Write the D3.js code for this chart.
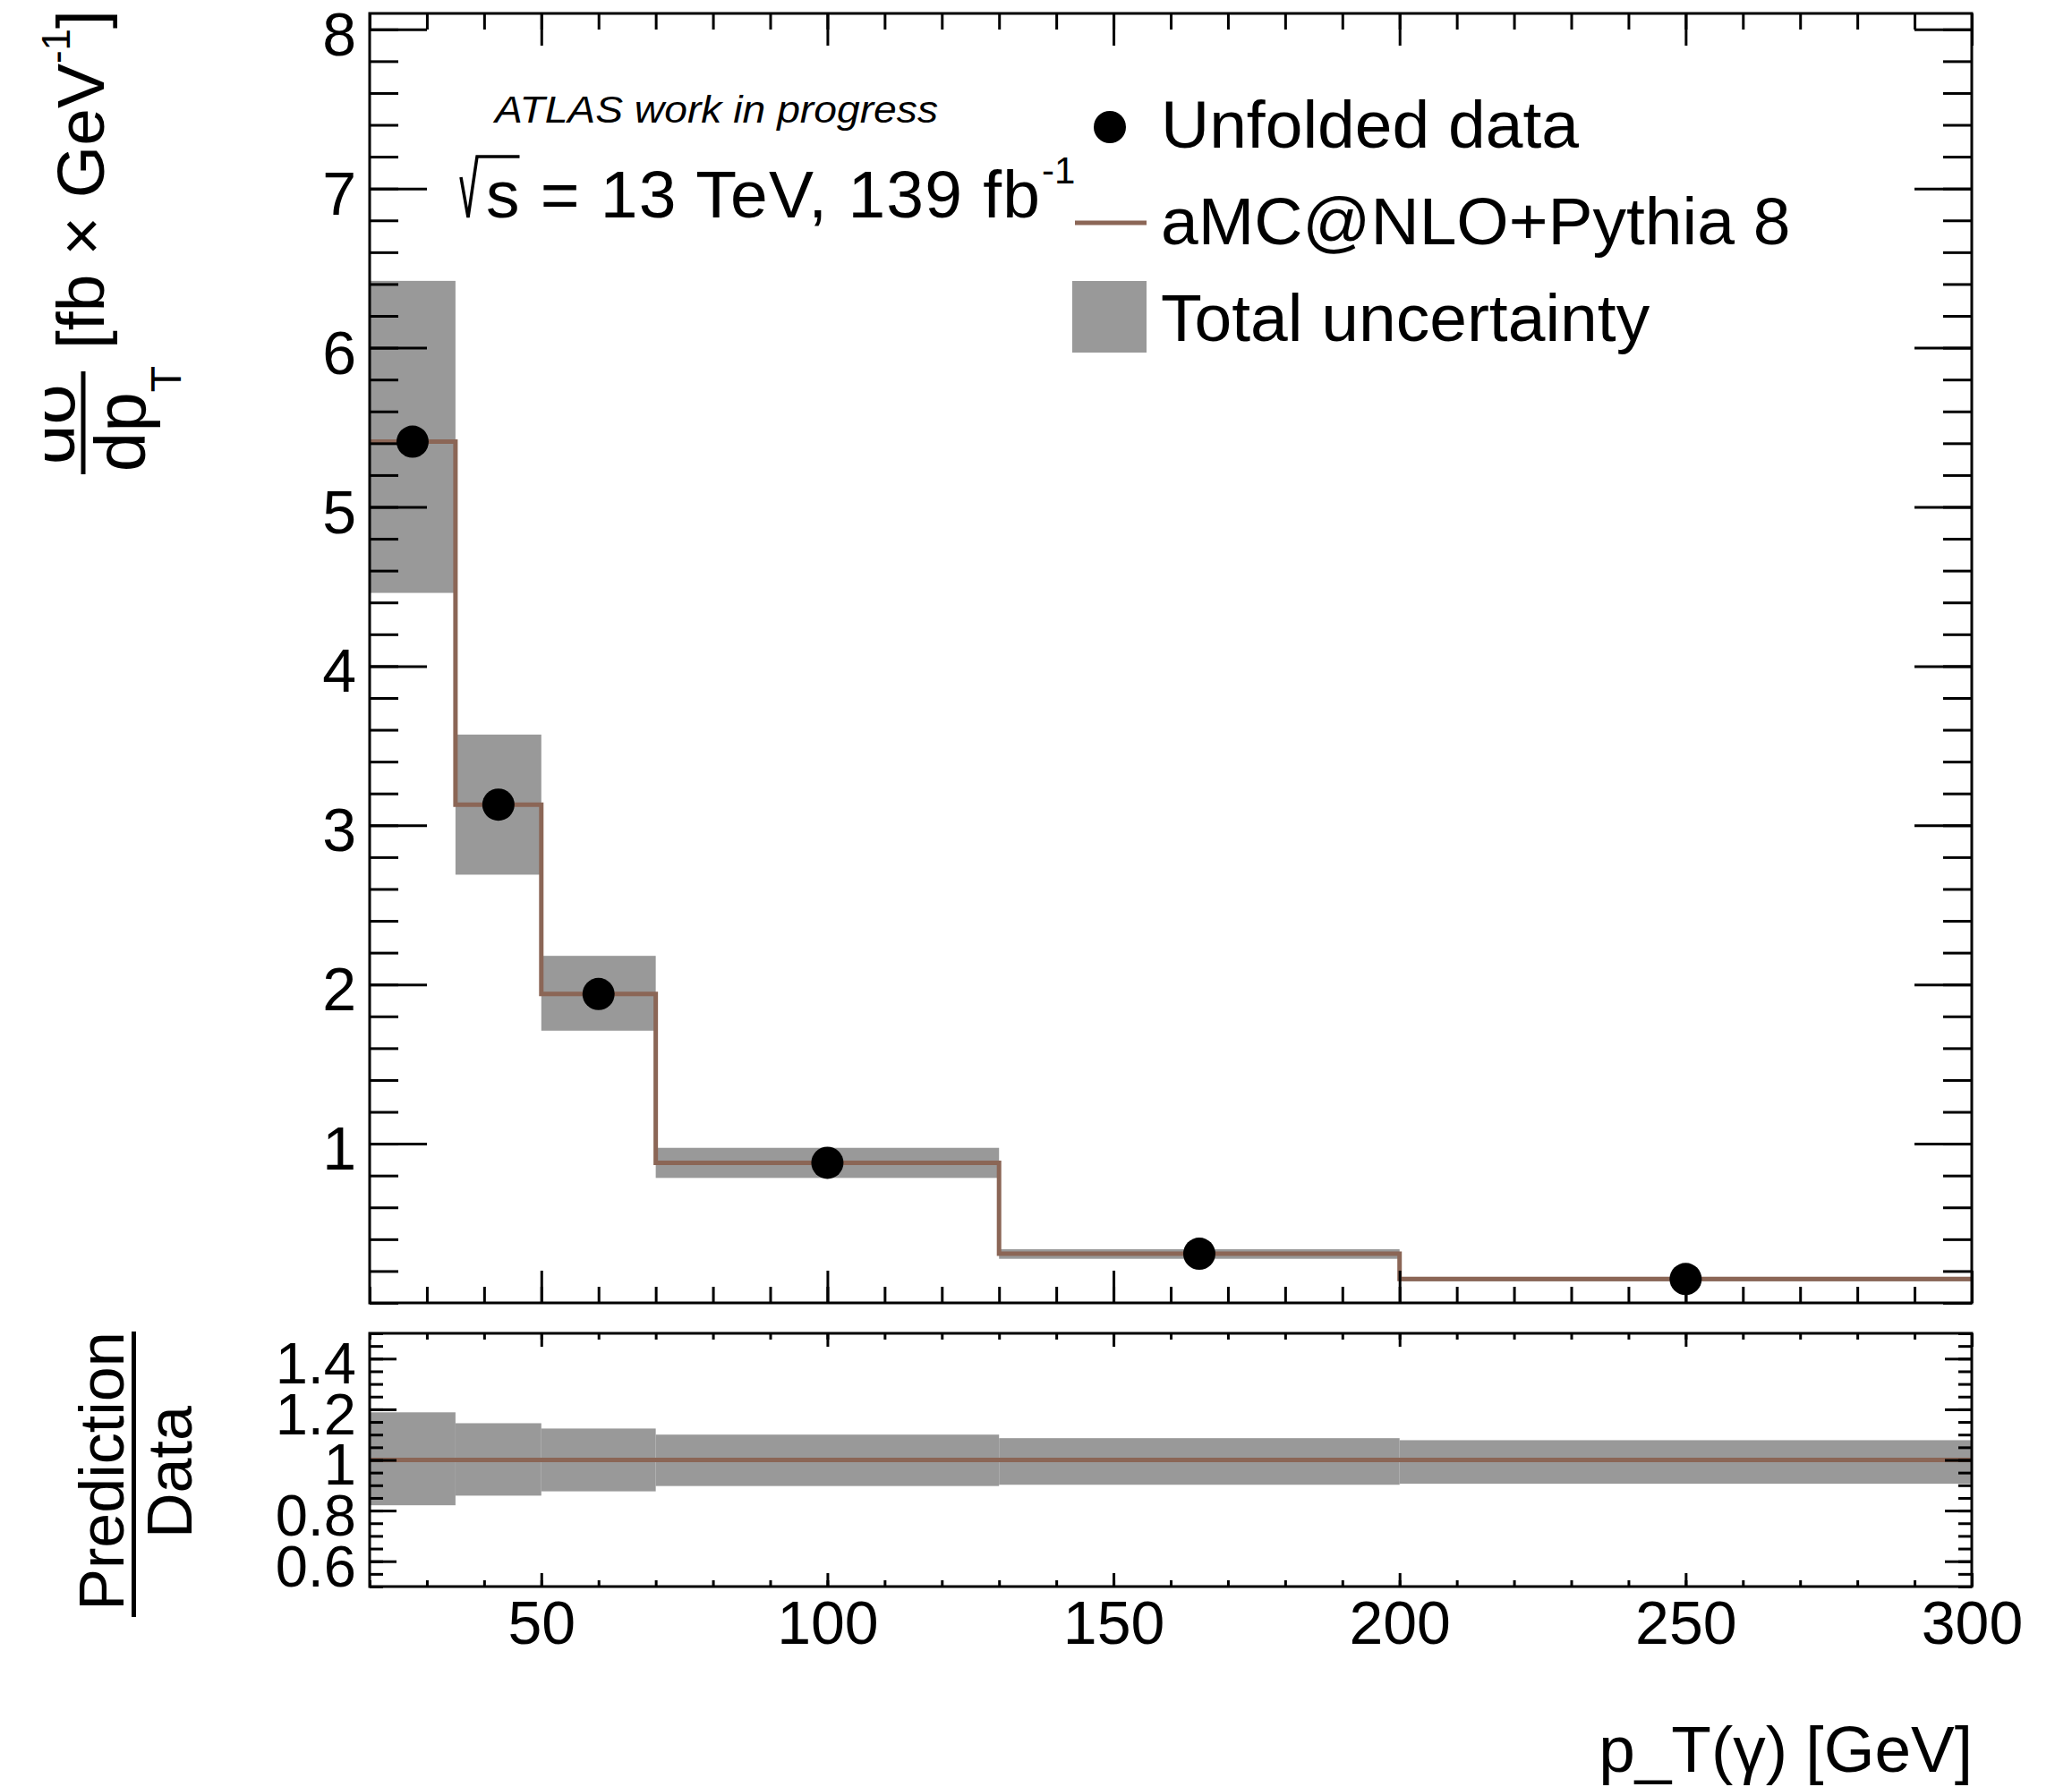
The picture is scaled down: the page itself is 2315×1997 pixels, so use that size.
<!DOCTYPE html>
<html><head><meta charset="utf-8">
<script src="https://cdn.jsdelivr.net/npm/d3@7"></script>
<style>body{margin:0;background:#fff}</style>
</head><body><svg id="c" width="2315" height="1997" xmlns="http://www.w3.org/2000/svg"></svg>
<script>
// ---------------- data ----------------
const binEdges    = [20, 35, 50, 70, 130, 200, 300];
const binCenters  = [27.5, 42.5, 60, 100, 165, 250];
const dataValues  = [5.41, 3.13, 1.94, 0.88, 0.309, 0.150];
const predValues  = [5.41, 3.13, 1.94, 0.88, 0.309, 0.150];
const uncHigh     = [6.42, 3.57, 2.18, 0.974, 0.337, 0.162];
const uncLow      = [4.46, 2.69, 1.71, 0.785, 0.277, 0.135];
const ratioValues = [1, 1, 1, 1, 1, 1];
const ratioHigh   = [1.188, 1.145, 1.124, 1.100, 1.086, 1.078];
const ratioLow    = [0.821, 0.859, 0.876, 0.897, 0.902, 0.906];

const xMajorTicks = [50, 100, 150, 200, 250, 300];
const xTickLabels = ["50", "100", "150", "200", "250", "300"];
const yMainTicks  = [1, 2, 3, 4, 5, 6, 7, 8];
const yMainLabels = ["1", "2", "3", "4", "5", "6", "7", "8"];
const yRatioTicks = [0.6, 0.8, 1.0, 1.2, 1.4];
const yRatioLabels = ["0.6", "0.8", "1", "1.2", "1.4"];

const legendLabels = ["Unfolded data", "aMC@NLO+Pythia 8", "Total uncertainty"];

// ---------------- layout ----------------
const FONT = "'Liberation Sans', Arial, Helvetica, sans-serif";
const L = 413, R = 2203;
const mainTop = 15, mainBot = 1456;
const ratTop = 1490, ratBot = 1773;
const BAND = "#999999", LINE = "#8b6656";

const svg = d3.select("#c");
svg.append("rect").attr("width", 2315).attr("height", 1997).attr("fill", "#fff");

const x  = d3.scaleLinear().domain([20, 300]).range([L, R]);
const yM = d3.scaleLinear().domain([0, 8.1]).range([mainBot, mainTop]);
const yR = d3.scaleLinear().domain([0.5, 1.5]).range([ratBot, ratTop]);

const defs = svg.append("defs");
defs.append("clipPath").attr("id", "mc").append("rect")
  .attr("x", L).attr("y", mainTop).attr("width", R - L).attr("height", mainBot - mainTop);
defs.append("clipPath").attr("id", "rc").append("rect")
  .attr("x", L).attr("y", ratTop).attr("width", R - L).attr("height", ratBot - ratTop);
defs.append("clipPath").attr("id", "numclip").append("rect")
  .attr("x", 50).attr("y", 0).attr("width", 80).attr("height", 700);

const idx = d3.range(binCenters.length);

// ---------------- main panel ----------------
const gm = svg.append("g").attr("clip-path", "url(#mc)");
gm.selectAll("rect.band").data(idx).join("rect").attr("class", "band")
  .attr("x", i => x(binEdges[i]))
  .attr("width", i => x(binEdges[i + 1]) - x(binEdges[i]))
  .attr("y", i => yM(uncHigh[i]))
  .attr("height", i => yM(uncLow[i]) - yM(uncHigh[i]))
  .attr("fill", BAND);

const stepPts = binEdges.map((e, i) => [e, predValues[Math.min(i, predValues.length - 1)]]);
const stepLine = (ys) => d3.line().x(d => x(d[0])).y(d => ys(d[1])).curve(d3.curveStepAfter);
gm.append("path").datum(stepPts).attr("d", stepLine(yM))
  .attr("fill", "none").attr("stroke", LINE).attr("stroke-width", 5);

gm.selectAll("circle").data(idx).join("circle")
  .attr("cx", i => x(binCenters[i])).attr("cy", i => yM(dataValues[i]))
  .attr("r", 18).attr("fill", "#000");

// ---------------- ratio panel ----------------
const gr = svg.append("g").attr("clip-path", "url(#rc)");
gr.selectAll("rect.band").data(idx).join("rect").attr("class", "band")
  .attr("x", i => x(binEdges[i]))
  .attr("width", i => x(binEdges[i + 1]) - x(binEdges[i]))
  .attr("y", i => yR(ratioHigh[i]))
  .attr("height", i => yR(ratioLow[i]) - yR(ratioHigh[i]))
  .attr("fill", BAND);
const ratioPts = binEdges.map((e, i) => [e, ratioValues[Math.min(i, ratioValues.length - 1)]]);
gr.append("path").datum(ratioPts).attr("d", stepLine(yR))
  .attr("fill", "none").attr("stroke", LINE).attr("stroke-width", 5);

// ---------------- axes ----------------
function styleAxis(g, fontSize) {
  g.select(".domain").remove();
  g.selectAll(".tick line").attr("stroke", "#000").attr("stroke-width", 3);
  g.selectAll(".tick text").attr("fill", "#000")
    .style("font-family", FONT).style("font-size", fontSize + "px");
}
function addAxis(axis, tx, ty, fontSize) {
  const g = svg.append("g").attr("transform", `translate(${tx},${ty})`).call(axis);
  styleAxis(g, fontSize || 68);
  return g;
}
const xMinor = d3.range(20, 301, 10);
const yMainMinor = d3.range(0, 8.05, 0.2);
const yRatioMinor = d3.range(0.5, 1.501, 0.05);

// main
addAxis(d3.axisTop(x).tickValues(xMinor).tickSize(-18).tickFormat(""), 0, mainTop);
addAxis(d3.axisTop(x).tickValues(xMajorTicks).tickSize(-36).tickFormat(""), 0, mainTop);
addAxis(d3.axisBottom(x).tickValues(xMinor).tickSize(-18).tickFormat(""), 0, mainBot);
addAxis(d3.axisBottom(x).tickValues(xMajorTicks).tickSize(-36).tickFormat(""), 0, mainBot);
addAxis(d3.axisLeft(yM).tickValues(yMainMinor).tickSize(-32).tickFormat(""), L, 0);
const ml = addAxis(d3.axisLeft(yM).tickValues(yMainTicks).tickSize(-64).tickPadding(15)
  .tickFormat((d, i) => yMainLabels[i]), L, 0);
ml.selectAll(".tick text").attr("dy", "0.42em");
addAxis(d3.axisRight(yM).tickValues(yMainMinor).tickSize(-32).tickFormat(""), R, 0);
addAxis(d3.axisRight(yM).tickValues(yMainTicks).tickSize(-64).tickFormat(""), R, 0);

// ratio
addAxis(d3.axisTop(x).tickValues(xMinor).tickSize(-7).tickFormat(""), 0, ratTop);
addAxis(d3.axisTop(x).tickValues(xMajorTicks).tickSize(-15).tickFormat(""), 0, ratTop);
addAxis(d3.axisBottom(x).tickValues(xMinor).tickSize(-7).tickFormat(""), 0, ratBot);
addAxis(d3.axisBottom(x).tickValues(xMajorTicks).tickSize(-15).tickPadding(16)
  .tickFormat((d, i) => xTickLabels[i]), 0, ratBot);
addAxis(d3.axisLeft(yR).tickValues(yRatioMinor).tickSize(-15).tickFormat(""), L, 0);
const rl = addAxis(d3.axisLeft(yR).tickValues(yRatioTicks).tickSize(-30).tickPadding(15)
  .tickFormat((d, i) => yRatioLabels[i]), L, 0, 65);
rl.selectAll(".tick text").attr("dy", "0.42em");
addAxis(d3.axisRight(yR).tickValues(yRatioMinor).tickSize(-15).tickFormat(""), R, 0);
addAxis(d3.axisRight(yR).tickValues(yRatioTicks).tickSize(-30).tickFormat(""), R, 0);

// frames
svg.append("rect").attr("x", L).attr("y", mainTop).attr("width", R - L).attr("height", mainBot - mainTop)
  .attr("fill", "none").attr("stroke", "#000").attr("stroke-width", 3);
svg.append("rect").attr("x", L).attr("y", ratTop).attr("width", R - L).attr("height", ratBot - ratTop)
  .attr("fill", "none").attr("stroke", "#000").attr("stroke-width", 3);

// ---------------- axis titles ----------------
const numG = svg.append("g").attr("clip-path", "url(#numclip)");
numG.append("text").attr("transform", "translate(83,472) rotate(-90)")
  .attr("text-anchor", "middle").style("font-family", FONT).style("font-size", "80px")
  .text("dσ");
svg.append("line").attr("x1", 93).attr("x2", 93).attr("y1", 415).attr("y2", 530)
  .attr("stroke", "#000").attr("stroke-width", 5);
const den = svg.append("text").attr("transform", "translate(162,468) rotate(-90)")
  .attr("text-anchor", "middle").style("font-family", FONT).style("font-size", "80px");
den.append("tspan").text("dp");
den.append("tspan").attr("dy", 40).style("font-size", "48px").text("T");

const yt = svg.append("text").attr("transform", "translate(116,390) rotate(-90)")
  .attr("text-anchor", "start").style("font-family", FONT).style("font-size", "75px");
yt.append("tspan").text("[fb × GeV");
yt.append("tspan").attr("dy", -38).style("font-size", "44px").text("-1");
yt.append("tspan").attr("dy", 38).text("]");

svg.append("text").attr("transform", "translate(138,1644) rotate(-90)")
  .attr("text-anchor", "middle").style("font-family", FONT).style("font-size", "70px")
  .text("Prediction");
svg.append("line").attr("x1", 149.5).attr("x2", 149.5).attr("y1", 1488).attr("y2", 1807)
  .attr("stroke", "#000").attr("stroke-width", 5);
svg.append("text").attr("transform", "translate(214,1645) rotate(-90)")
  .attr("text-anchor", "middle").style("font-family", FONT).style("font-size", "70px")
  .text("Data");

svg.append("text").attr("x", 2204).attr("y", 1980).attr("text-anchor", "end")
  .style("font-family", FONT).style("font-size", "73px").text("p_T(γ) [GeV]");

// ---------------- annotations ----------------
svg.append("text").attr("x", 553).attr("y", 137)
  .attr("textLength", 495).attr("lengthAdjust", "spacingAndGlyphs")
  .style("font-family", FONT).style("font-size", "42px").style("font-style", "italic")
  .text("ATLAS work in progress");

const sx = 543, sy = 243;
const lumi = svg.append("text").attr("x", sx).attr("y", sy)
  .attr("textLength", 619).attr("lengthAdjust", "spacing")
  .style("font-family", FONT).style("font-size", "75px")
  .text("s = 13 TeV, 139 fb");
svg.append("text").attr("x", sx + 621).attr("y", sy - 38)
  .style("font-family", FONT).style("font-size", "42px").text("-1");
const sW = lumi.node().getSubStringLength(0, 1);
svg.append("path")
  .attr("d", `M${sx - 28},${sy - 45} L${sx - 20},${sy} L${sx - 10},${sy - 68} L${sx + sW},${sy - 68}`)
  .attr("fill", "none").attr("stroke", "#000").attr("stroke-width", 3.5);

// ---------------- legend ----------------
const legX = 1297, legBase = [165, 273, 381];
svg.append("circle").attr("cx", 1240).attr("cy", 142).attr("r", 18).attr("fill", "#000");
svg.append("line").attr("x1", 1201).attr("x2", 1281).attr("y1", 249).attr("y2", 249)
  .attr("stroke", LINE).attr("stroke-width", 5);
svg.append("rect").attr("x", 1198).attr("y", 314).attr("width", 83).attr("height", 80).attr("fill", BAND);
svg.selectAll("text.leg").data(legendLabels).join("text").attr("class", "leg")
  .attr("x", legX).attr("y", (d, i) => legBase[i])
  .style("font-family", FONT).style("font-size", "75px").text(d => d);
</script>
</body></html>
